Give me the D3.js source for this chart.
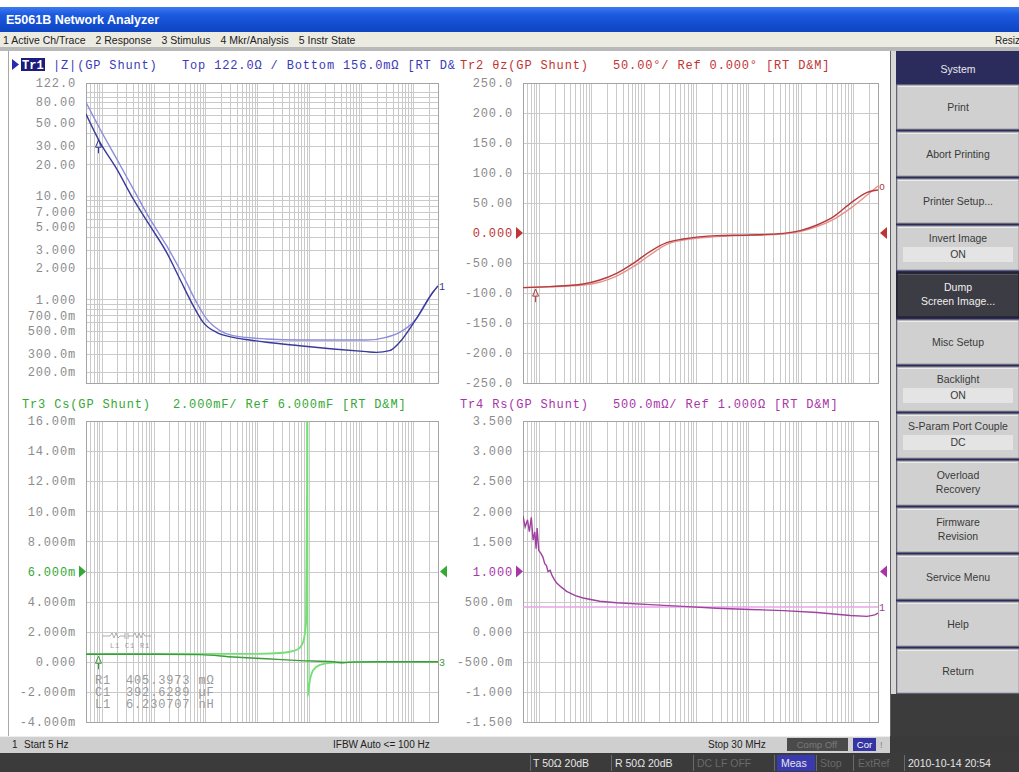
<!DOCTYPE html>
<html>
<head>
<meta charset="utf-8">
<script src="https://cdn.jsdelivr.net/npm/d3@7"></script>
<style>
  body { margin: 0; background: #fff; }
  .mono { font-family: "Liberation Mono", "DejaVu Sans Mono", monospace; font-size: 12px; letter-spacing: 0.85px; }
  .ui { font-family: "Liberation Sans", Arial, sans-serif; }
</style>
</head>
<body>
<div id="screen"></div>
<script>
// sweep, log frequency 5 Hz .. 30 MHz
var sweep = [5, 30e6];

// Tr1 |Z| in ohm: measured / equivalent circuit
var zMeas = [[5,61.3],[9.3,32.7],[19.5,18.1],[40.6,9.3],[85,5.13],[178,2.84],[321,1.57],[579,0.87],[902,0.60],[1630,0.48],[3400,0.43],[7100,0.405],[14900,0.385],[65000,0.357],[285000,0.332],[1.25e6,0.313],[1.95e6,0.308],[3.5e6,0.32],[5.46e6,0.385],[11.4e6,0.647],[23.9e6,1.17],[30e6,1.35]];
var zSim = [[5,79.5],[9.3,43.9],[19.5,22.6],[40.6,11.6],[85,5.96],[178,3.29],[372,1.69],[671,0.935],[1050,0.647],[1890,0.50],[3400,0.447],[14900,0.415],[65000,0.405],[285000,0.405],[1.25e6,0.405],[3.0e6,0.43],[5.46e6,0.48],[11.4e6,0.647],[23.9e6,1.17],[30e6,1.35]];

// Tr2 phase in degrees
var thMeas = [[5,-91],[16.2,-89.4],[70.3,-85],[146.5,-78.3],[306,-67.2],[637,-50.6],[1327,-31],[2767,-16.1],[5755,-10],[25060,-4.4],[108700,-3.3],[471000,-0.6],[983000,3.9],[2.05e6,13.3],[4.27e6,27.2],[8.9e6,49.4],[18.6e6,67.8],[30e6,71.7]];
var thSim = [[5,-91],[70.3,-86.7],[306,-71.7],[637,-56.1],[1327,-36.7],[2767,-18.9],[5755,-11.7],[25060,-6.1],[471000,-1.7],[2.05e6,10.6],[4.27e6,22.8],[8.9e6,41.1],[18.6e6,63.3],[30e6,78.3]];

// Tr3 Cs in mF
var csMeas = [[5,0.5],[100,0.5],[783,0.48],[3430,0.32],[14900,0.2],[66000,0.08],[289000,0.0],[450000,-0.06],[700000,-0.02],[2e6,0],[30e6,0]];
var csSim = [[5,0.52],[10000,0.53],[31600,0.6],[49100,0.72],[66000,0.95],[76500,1.35],[86000,2.6],[90100,11.4],[91000,40],[92500,-2.3],[102800,-1.21],[119000,-0.54],[160000,-0.21],[289000,-0.05],[1e6,0],[30e6,0]];

// Tr4 Rs in ohm
var rsMeas = [[5,1.92],[5.5,1.74],[6.1,1.86],[6.6,1.66],[7.2,1.9],[7.8,1.52],[8.4,1.66],[8.9,1.38],[9.3,1.72],[10,1.35],[11,1.30],[12,1.24],[13,1.13],[14,1.10],[15,1.0],[16.5,1.02],[18,0.93],[20,0.86],[22,0.81],[27,0.74],[34,0.67],[50,0.60],[70,0.56],[146,0.505],[306,0.48],[1330,0.45],[5750,0.42],[25000,0.39],[109000,0.37],[471000,0.35],[2.05e6,0.32],[8.9e6,0.27],[18.6e6,0.255],[26e6,0.28],[30e6,0.31]];
var rsSim = [[5,0.41],[30e6,0.41]];

var markerFreq = 8.7;

// tick labels
var zTicks = [122,80,50,30,20,10,7,5,3,2,1,0.7,0.5,0.3,0.2];
var zLabels = ["122.0","80.00","50.00","30.00","20.00","10.00","7.000","5.000","3.000","2.000","1.000","700.0m","500.0m","300.0m","200.0m"];
var thTicks = [250,200,150,100,50,0,-50,-100,-150,-200,-250];
var thLabels = ["250.0","200.0","150.0","100.0","50.00","0.000","-50.00","-100.0","-150.0","-200.0","-250.0"];
var csTicks = [16,14,12,10,8,6,4,2,0,-2,-4];
var csLabels = ["16.00m","14.00m","12.00m","10.00m","8.000m","6.000m","4.000m","2.000m","0.000","-2.000m","-4.000m"];
var rsTicks = [3.5,3,2.5,2,1.5,1,0.5,0,-0.5,-1,-1.5];
var rsLabels = ["3.500","3.000","2.500","2.000","1.500","1.000","500.0m","0.000","-500.0m","-1.000","-1.500"];

var menuItems = ["1 Active Ch/Trace","2 Response","3 Stimulus","4 Mkr/Analysis","5 Instr State"];
var softkeys = [["Print"],["Abort Printing"],["Printer Setup..."],["Invert Image","ON"],["Dump","Screen Image..."],["Misc Setup"],["Backlight","ON"],["S-Param Port Couple","DC"],["Overload","Recovery"],["Firmware","Revision"],["Service Menu"],["Help"],["Return"]];
var circuit = [["R1","405.3973 m\u03a9"],["C1","392.6289 \u00b5F"],["L1","6.230707 nH"]];

var W = 1019, H = 772;
var svg = d3.select("#screen").append("svg").attr("width", W).attr("height", H);
var defs = svg.append("defs");

// window chrome
var grad = defs.append("linearGradient").attr("id", "title").attr("x1", 0).attr("y1", 0).attr("x2", 0).attr("y2", 1);
grad.append("stop").attr("offset", "0%").attr("stop-color", "#3d7bf0");
grad.append("stop").attr("offset", "30%").attr("stop-color", "#1c5ae0");
grad.append("stop").attr("offset", "100%").attr("stop-color", "#0d44c2");
svg.append("rect").attr("x", 0).attr("y", 0).attr("width", W).attr("height", H).attr("fill", "#fff");
svg.append("rect").attr("x", 0).attr("y", 7).attr("width", W).attr("height", 25).attr("fill", "url(#title)");
svg.append("text").attr("class", "ui").attr("x", 6).attr("y", 24).attr("fill", "#fff")
  .style("font-size", "12.5px").attr("font-weight", "bold").text("E5061B Network Analyzer");
svg.append("rect").attr("x", 0).attr("y", 32).attr("width", W).attr("height", 15).attr("fill", "#ecebe2");
svg.append("rect").attr("x", 0).attr("y", 47).attr("width", W).attr("height", 4).attr("fill", "#b8b8b8");
// menu items laid out one after the other
var menuX = 3;
svg.selectAll(".menu").data(menuItems).enter().append("text").attr("class", "ui")
  .attr("y", 43.5).style("font-size", "10.5px").attr("fill", "#222")
  .text(function(d) { return d; })
  .each(function() {
    d3.select(this).attr("x", menuX);
    menuX += this.getComputedTextLength() + 10;
  });
svg.append("text").attr("class", "ui").attr("x", 995).attr("y", 43.5).style("font-size", "10px").attr("fill", "#222").text("Resiz");
svg.append("line").attr("x1", 8.5).attr("x2", 8.5).attr("y1", 51).attr("y2", 736).attr("stroke", "#a8a8a8");

// one trace window
function panel(p) {
  var g = svg.append("g");
  var x = d3.scaleLog().domain(sweep).range([p.left, p.left + p.width]);
  var y = (p.log ? d3.scaleLog() : d3.scaleLinear()).domain(p.domain).range([p.top + p.height, p.top]);

  var xg = [];
  for (var e = 0; e <= 7; e++) for (var k = 1; k <= 9; k++) {
    var v = k * Math.pow(10, e);
    if (v > sweep[0] && v < sweep[1]) xg.push(v);
  }
  var yg = [];
  if (p.log) {
    for (var e2 = -1; e2 <= 2; e2++) for (var k2 = 1; k2 <= 9; k2++) {
      var w = k2 * Math.pow(10, e2);
      if (w > p.domain[0] && w < p.domain[1]) yg.push(w);
    }
  } else {
    yg = p.ticks;
  }
  var px = function(v) { return Math.round(v) + 0.5; };
  g.selectAll(".vg").data(xg).enter().append("line")
    .attr("x1", function(d) { return px(x(d)); }).attr("x2", function(d) { return px(x(d)); })
    .attr("y1", p.top).attr("y2", p.top + p.height).attr("stroke", "#cacaca");
  g.selectAll(".hg").data(yg).enter().append("line")
    .attr("x1", p.left).attr("x2", p.left + p.width)
    .attr("y1", function(d) { return px(y(d)); }).attr("y2", function(d) { return px(y(d)); })
    .attr("stroke", "#cacaca");
  g.append("rect").attr("x", px(p.left)).attr("y", px(p.top)).attr("width", Math.round(p.width)).attr("height", Math.round(p.height))
    .attr("fill", "none").attr("stroke", "#a4a4a4");

  g.selectAll(".yl").data(p.ticks).enter().append("text").attr("class", "mono")
    .attr("x", p.left - 10).attr("y", function(d) { return y(d); }).attr("dy", "0.35em")
    .attr("text-anchor", "end")
    .attr("fill", function(d) { return d === p.ref ? p.color : "#8c8c8c"; })
    .text(function(d, i) { return p.labels[i]; });

  if (p.ref !== undefined) {
    var ry = y(p.ref);
    g.append("path").attr("d", "M" + (p.left - 7) + "," + (ry - 6) + "L" + p.left + "," + ry + "L" + (p.left - 7) + "," + (ry + 6) + "Z").attr("fill", p.color);
    var rx = p.left + p.width;
    g.append("path").attr("d", "M" + (rx + 9) + "," + (ry - 6) + "L" + (rx + 2) + "," + ry + "L" + (rx + 9) + "," + (ry + 6) + "Z").attr("fill", p.color);
  }

  var clipId = "clip" + p.id;
  defs.append("clipPath").attr("id", clipId).append("rect")
    .attr("x", p.left).attr("y", p.top).attr("width", p.width + 1).attr("height", p.height + 1);
  var tg = g.append("g").attr("clip-path", "url(#" + clipId + ")");
  p.traces.forEach(function(t) {
    var line = d3.line().x(function(d) { return x(d[0]); }).y(function(d) { return y(d[1]); })
      .curve(t.linear ? d3.curveLinear : d3.curveMonotoneX);
    tg.append("path").datum(t.data).attr("d", line).attr("fill", "none")
      .attr("stroke", t.color).attr("stroke-width", t.width || 1.4);
  });

  // marker 1 on measured trace
  if (p.marker) {
    var md = p.traces[p.traces.length - 1].data;
    var mv = interp(md, markerFreq);
    var mxp = x(markerFreq), myp = y(mv);
    g.append("path").attr("d", "M" + (mxp - 3) + "," + (myp + 9) + "L" + (mxp + 3) + "," + (myp + 9) + "L" + mxp + "," + (myp + 2) + "Z")
      .attr("fill", "none").attr("stroke", p.traceDark);
    g.append("line").attr("x1", mxp).attr("x2", mxp).attr("y1", myp + 9).attr("y2", myp + 15).attr("stroke", p.traceDark);
  }
  if (p.endMark) {
    var ed = p.traces[0].data;
    g.append("text").attr("class", "mono").attr("x", p.left + p.width + 1).attr("y", y(ed[ed.length - 1][1]) + 4)
      .style("font-size", "10px").attr("fill", p.traceDark).text(p.endMark);
  }
  return { x: x, y: y, g: g };
}

function interp(data, f) {
  for (var i = 1; i < data.length; i++) {
    if (data[i][0] >= f) {
      var a = data[i - 1], b = data[i];
      var t = (Math.log(f) - Math.log(a[0])) / (Math.log(b[0]) - Math.log(a[0]));
      return a[1] + t * (b[1] - a[1]);
    }
  }
  return data[data.length - 1][1];
}

function header(x, yb, color, parts) {
  parts.forEach(function(pt) {
    svg.append("text").attr("class", "mono").attr("x", x + pt[0]).attr("y", yb).attr("fill", color).text(pt[1]);
  });
}

// Tr1
panel({ id: 1, left: 86, top: 83, width: 352, height: 300, log: true, domain: [0.156, 122],
  ticks: zTicks, labels: zLabels, color: "#3a3ab8", traceDark: "#34349a", marker: true, endMark: "1",
  traces: [{ data: zSim, color: "#8c8ce0" }, { data: zMeas, color: "#3a3a9c" }] });
// Tr2
panel({ id: 2, left: 523, top: 83, width: 355, height: 300, domain: [-250, 250], ref: 0,
  ticks: thTicks, labels: thLabels, color: "#c03434", traceDark: "#b03a3a", marker: true, endMark: "o",
  traces: [{ data: thSim, color: "#e89090" }, { data: thMeas, color: "#b43c3c" }] });
// Tr3
panel({ id: 3, left: 86, top: 421, width: 352, height: 301, domain: [-4, 16], ref: 6,
  ticks: csTicks, labels: csLabels, color: "#34a834", traceDark: "#3a9a3a", marker: true, endMark: "3",
  traces: [{ data: csSim, color: "#74e074", width: 1.8 }, { data: csMeas, color: "#3c9c3c" }] });
// Tr4
panel({ id: 4, left: 523, top: 421, width: 355, height: 301, domain: [-1.5, 3.5], ref: 1,
  ticks: rsTicks, labels: rsLabels, color: "#a834a8", traceDark: "#9a3a9a", endMark: "1",
  traces: [{ data: rsSim, color: "#e8a4e8", linear: true }, { data: rsMeas, color: "#a040a0", linear: true }] });

// trace headers
svg.append("path").attr("d", "M12,59L19,64.5L12,70Z").attr("fill", "#2a2ab0");
svg.append("rect").attr("x", 21).attr("y", 58).attr("width", 24).attr("height", 13).attr("fill", "#1c1c7a");
svg.append("text").attr("class", "mono").attr("x", 22).attr("y", 69).attr("fill", "#fff").attr("font-weight", "bold").style("letter-spacing", "0px").text("Tr1");
defs.append("clipPath").attr("id", "hclip").append("rect").attr("x", 0).attr("y", 50).attr("width", 456).attr("height", 30);
var h1 = svg.append("g").attr("clip-path", "url(#hclip)");
h1.append("text").attr("class", "mono").attr("x", 53).attr("y", 69).attr("fill", "#3a3ab8").text("|Z|(GP Shunt)");
h1.append("text").attr("class", "mono").attr("x", 182).attr("y", 69).attr("fill", "#3a3ab8").text("Top 122.0\u03a9 / Bottom 156.0m\u03a9 [RT D&M]");
header(460, 69, "#c03434", [[0, "Tr2 \u03b8z(GP Shunt)"], [153, "50.00\u00b0/ Ref 0.000\u00b0 [RT D&M]"]]);
header(22, 408, "#34a834", [[0, "Tr3 Cs(GP Shunt)"], [151, "2.000mF/ Ref 6.000mF [RT D&M]"]]);
header(460, 408, "#a834a8", [[0, "Tr4 Rs(GP Shunt)"], [153, "500.0m\u03a9/ Ref 1.000\u03a9 [RT D&M]"]]);

// equivalent circuit note in Tr3
var ng = svg.append("g").attr("fill", "#9a9a9a");
ng.append("path").attr("d", "M102,636h8l2,-3l2,5l2,-5l2,5l2,-2h5M125,633v6M128,633v6M128,636h5l2,-3l2,5l2,-5l2,5l2,-5l2,3h6")
  .attr("fill", "none").attr("stroke", "#9a9a9a").attr("stroke-width", 0.8);
ng.append("text").attr("class", "mono").attr("x", 110).attr("y", 648).style("font-size", "7px").style("letter-spacing", "0.8px").text("L1 C1 R1");
ng.selectAll(".cn").data(circuit).enter().append("text").attr("class", "mono")
  .attr("x", 95).attr("y", function(d, i) { return 684 + i * 12; }).text(function(d) { return d[0]; });
ng.selectAll(".cv").data(circuit).enter().append("text").attr("class", "mono")
  .attr("x", 126).attr("y", function(d, i) { return 684 + i * 12; }).text(function(d) { return d[1]; });

// softkey panel
svg.append("rect").attr("x", 890).attr("y", 51).attr("width", 129).attr("height", 685).attr("fill", "#2c2c5c");
svg.append("rect").attr("x", 890).attr("y", 51).attr("width", 6).attr("height", 685).attr("fill", "#d8d8d8");
svg.append("line").attr("x1", 890.5).attr("x2", 890.5).attr("y1", 51).attr("y2", 736).attr("stroke", "#606060");
svg.append("text").attr("class", "ui").attr("x", 958).attr("y", 73).attr("text-anchor", "middle")
  .style("font-size", "10.5px").attr("fill", "#e8e8f0").text("System");
var keys = svg.selectAll(".key").data(softkeys).enter().append("g")
  .attr("transform", function(d, i) { return "translate(897," + (85 + i * 47) + ")"; });
keys.append("rect").attr("width", 122).attr("height", 44)
  .attr("fill", function(d, i) { return i === 4 ? "#3c3c44" : "#d0d0d0"; })
  .attr("stroke", function(d, i) { return i === 4 ? "#18181c" : "#9a9a9a"; });
keys.append("line").attr("x1", 1).attr("x2", 121).attr("y1", 1.5).attr("y2", 1.5)
  .attr("stroke", function(d, i) { return i === 4 ? "#55555e" : "#ececec"; });
keys.each(function(d, i) {
  var k = d3.select(this);
  var boxed = d.length === 2 && (d[1] === "ON" || d[1] === "DC");
  var col = i === 4 ? "#f0f0f0" : "#3a3a3a";
  var t = function(yy, s) {
    k.append("text").attr("class", "ui").attr("x", 61).attr("y", yy).attr("text-anchor", "middle")
      .style("font-size", "10.5px").attr("fill", col).text(s);
  };
  if (d.length === 1) {
    t(26, d[0]);
  } else if (boxed) {
    t(16, d[0]);
    k.append("rect").attr("x", 6).attr("y", 21).attr("width", 110).attr("height", 15).attr("fill", "#e4e4e4");
    t(32, d[1]);
  } else {
    t(18, d[0]);
    t(32, d[1]);
  }
});
svg.append("rect").attr("x", 891).attr("y", 694).attr("width", 128).attr("height", 42).attr("fill", "#3c3c3c");

// status line
svg.append("rect").attr("x", 0).attr("y", 736).attr("width", 890).attr("height", 17).attr("fill", "#cfcfcf");
svg.append("line").attr("x1", 0).attr("x2", 890).attr("y1", 736.5).attr("y2", 736.5).attr("stroke", "#eeeeee");
svg.append("rect").attr("x", 890).attr("y", 736).attr("width", 129).attr("height", 17).attr("fill", "#3a3a3a");
var stat = [["1", 12], ["Start 5 Hz", 24], ["IFBW Auto <= 100 Hz", 333], ["Stop 30 MHz", 708]];
svg.selectAll(".st").data(stat).enter().append("text").attr("class", "ui")
  .attr("x", function(d) { return d[1]; }).attr("y", 748).style("font-size", "10px").attr("fill", "#222")
  .text(function(d) { return d[0]; });
svg.append("rect").attr("x", 787).attr("y", 738).attr("width", 61).attr("height", 13).attr("fill", "#4a4a4a");
svg.append("text").attr("class", "ui").attr("x", 817).attr("y", 748).attr("text-anchor", "middle").style("font-size", "9.5px").attr("fill", "#7a7a7a").text("Comp Off");
svg.append("rect").attr("x", 853).attr("y", 738).attr("width", 23).attr("height", 13).attr("fill", "#3434a4");
svg.append("text").attr("class", "ui").attr("x", 864.5).attr("y", 748).attr("text-anchor", "middle").style("font-size", "9.5px").attr("fill", "#fff").text("Cor");
svg.append("text").attr("class", "ui").attr("x", 880).attr("y", 748).style("font-size", "9.5px").attr("fill", "#888").text("!");

// instrument status bar
svg.append("rect").attr("x", 0).attr("y", 753).attr("width", W).attr("height", 19).attr("fill", "#3b3b3b");
var sbar = [["T 50\u03a9 20dB", 533, "#e6e6e6"], ["R 50\u03a9 20dB", 615, "#e6e6e6"], ["DC LF OFF", 697, "#6a6a6a"],
            ["Meas", 781, "#e6e6e6"], ["Stop", 820, "#6a6a6a"], ["ExtRef", 858, "#6a6a6a"], ["2010-10-14 20:54", 908, "#e6e6e6"]];
svg.append("rect").attr("x", 777).attr("y", 755).attr("width", 38).attr("height", 16).attr("fill", "#3a3ab0");
[530, 611, 693, 774, 816, 853, 904].forEach(function(sx) {
  svg.append("line").attr("x1", sx + 0.5).attr("x2", sx + 0.5).attr("y1", 755).attr("y2", 771).attr("stroke", "#6a6a6a");
});
svg.selectAll(".sb").data(sbar).enter().append("text").attr("class", "ui")
  .attr("x", function(d) { return d[1]; }).attr("y", 767).style("font-size", "10.5px")
  .attr("fill", function(d) { return d[2]; }).text(function(d) { return d[0]; });
</script>
</body>
</html>
